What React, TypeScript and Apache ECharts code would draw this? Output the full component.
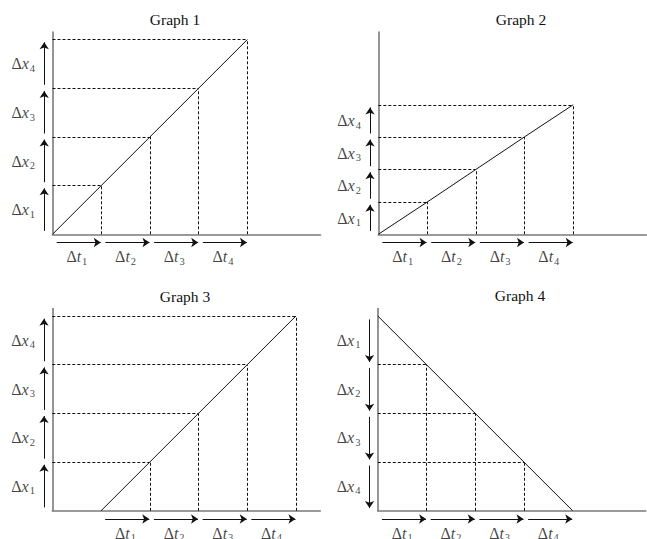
import React, { useEffect, useRef } from "react";
import * as echarts from "echarts";

// ---- data ----
const titles = ["Graph 1", "Graph 2", "Graph 3", "Graph 4"];
const g1T = [0, 1, 2, 3, 4];
const g1X = [0, 1, 2, 3, 4];
const g2T = [0, 1, 2, 3, 4];
const g2X = [0, 0.66, 1.33, 2.0, 2.66];
const g3T = [1, 2, 3, 4, 5];
const g3X = [0, 1, 2, 3, 4];
const g4T = [0, 1, 2, 3, 4];
const g4X = [4, 3, 2, 1, 0];
const graphT = [g1T, g2T, g3T, g4T];
const graphX = [g1X, g2X, g3X, g4X];

const FONT = "'Liberation Serif', 'Times New Roman', serif";
const INK = "#111111";
const AXIS = "#7a7a7a";

const gridPos = [
  { left: 52.5, top: 32 },
  { left: 378.3, top: 32 },
  { left: 52.3, top: 308.5 },
  { left: 377.8, top: 308.5 },
];
const titlePos = [
  { x: 175, y: 19 },
  { x: 521, y: 19 },
  { x: 185, y: 296 },
  { x: 520, y: 295 },
];

const rich = {
  d: { fontFamily: FONT, fontSize: 16, color: INK },
  v: { fontFamily: FONT, fontSize: 16, fontStyle: "italic", color: INK },
  s: { fontFamily: FONT, fontSize: 10.5, color: INK, padding: [9, 0, 0, 1] },
};

function buildOption() {
  const grids: any[] = [];
  const xAxes: any[] = [];
  const yAxes: any[] = [];
  const series: any[] = [];
  const graphics: any[] = [];

  graphT.forEach((T, k) => {
    const X = graphX[k];
    grids.push({
      left: gridPos[k].left,
      top: gridPos[k].top,
      width: 268,
      height: 202.3,
      containLabel: false,
      outerBoundsMode: "none",
    });
    const axisCommon = {
      gridIndex: k,
      type: "value",
      min: 0,
      axisTick: { show: false },
      axisLabel: { show: false },
      splitLine: { show: false },
      axisLine: { show: true, onZero: false, lineStyle: { color: AXIS, width: 1.6 } },
    };
    xAxes.push({ ...axisCommon, max: 5.5 });
    yAxes.push({ ...axisCommon, max: 4.154 });

    // diagonal line
    series.push({
      type: "line",
      xAxisIndex: k,
      yAxisIndex: k,
      data: T.map((t, i) => [t, X[i]]),
      symbol: "none",
      lineStyle: { color: INK, width: 1 },
      silent: true,
      z: 3,
    });

    // dashed guides
    const guides: any[] = [];
    T.forEach((t, i) => {
      if (t > 0 && X[i] > 0) {
        guides.push({ coords: [[0, X[i]], [t, X[i]]] });
        guides.push({ coords: [[t, 0], [t, X[i]]] });
      }
    });
    series.push({
      type: "lines",
      coordinateSystem: "cartesian2d",
      xAxisIndex: k,
      yAxisIndex: k,
      data: guides,
      symbol: ["none", "none"],
      lineStyle: { color: INK, width: 1, type: [3, 2], opacity: 1 },
      silent: true,
      z: 2,
    });

    // arrows
    const arrows: any[] = [];
    const labels: any[] = [];
    const ax = -0.17;
    const lx = -0.6;
    const ay = -0.168;
    const ly = -0.46;
    for (let i = 1; i < T.length; i++) {
      const lo = X[i - 1];
      const hi = X[i];
      const dir = hi > lo ? 1 : -1;
      arrows.push({ coords: [[ax, lo + dir * 0.07], [ax, hi - dir * 0.055]] });
      labels.push({
        value: [lx, (lo + hi) / 2],
        label: { formatter: `{d|Δ}{v|x}{s|${i}}` },
      });
      const t0 = T[i - 1];
      const t1 = T[i];
      arrows.push({ coords: [[t0 + 0.085, ay], [t1 - 0.01, ay]] });
      labels.push({
        value: [(t0 + t1) / 2, ly],
        label: { formatter: `{d|Δ}{v|t}{s|${i}}` },
      });
    }
    series.push({
      type: "lines",
      coordinateSystem: "cartesian2d",
      xAxisIndex: k,
      yAxisIndex: k,
      data: arrows,
      symbol: ["none", "arrow"],
      symbolSize: [1, 7],
      lineStyle: { color: INK, width: 1, opacity: 1 },
      clip: false,
      silent: true,
    });
    series.push({
      type: "scatter",
      xAxisIndex: k,
      yAxisIndex: k,
      data: labels,
      symbolSize: 0,
      clip: false,
      silent: true,
      label: {
        show: true,
        position: "inside",
        align: "center",
        verticalAlign: "middle",
        rich,
      },
    });

    graphics.push({
      type: "text",
      x: titlePos[k].x,
      y: titlePos[k].y,
      silent: true,
      style: {
        text: titles[k],
        fill: INK,
        font: `15.5px ${FONT}`,
        align: "center",
        verticalAlign: "middle",
      },
    });
  });

  return {
    animation: false,
    backgroundColor: "#ffffff",
    grid: grids,
    xAxis: xAxes,
    yAxis: yAxes,
    series,
    graphic: graphics,
  };
}

export default function App() {
  const ref = useRef<HTMLDivElement>(null);
  useEffect(() => {
    if (!ref.current) return;
    const chart = echarts.init(ref.current, undefined, { renderer: "svg" });
    chart.setOption(buildOption() as any);
    return () => chart.dispose();
  }, []);
  return (
    <div
      ref={ref}
      style={{ position: "absolute", left: 0, top: 0, width: 647, height: 539, background: "#fff" }}
    />
  );
}
